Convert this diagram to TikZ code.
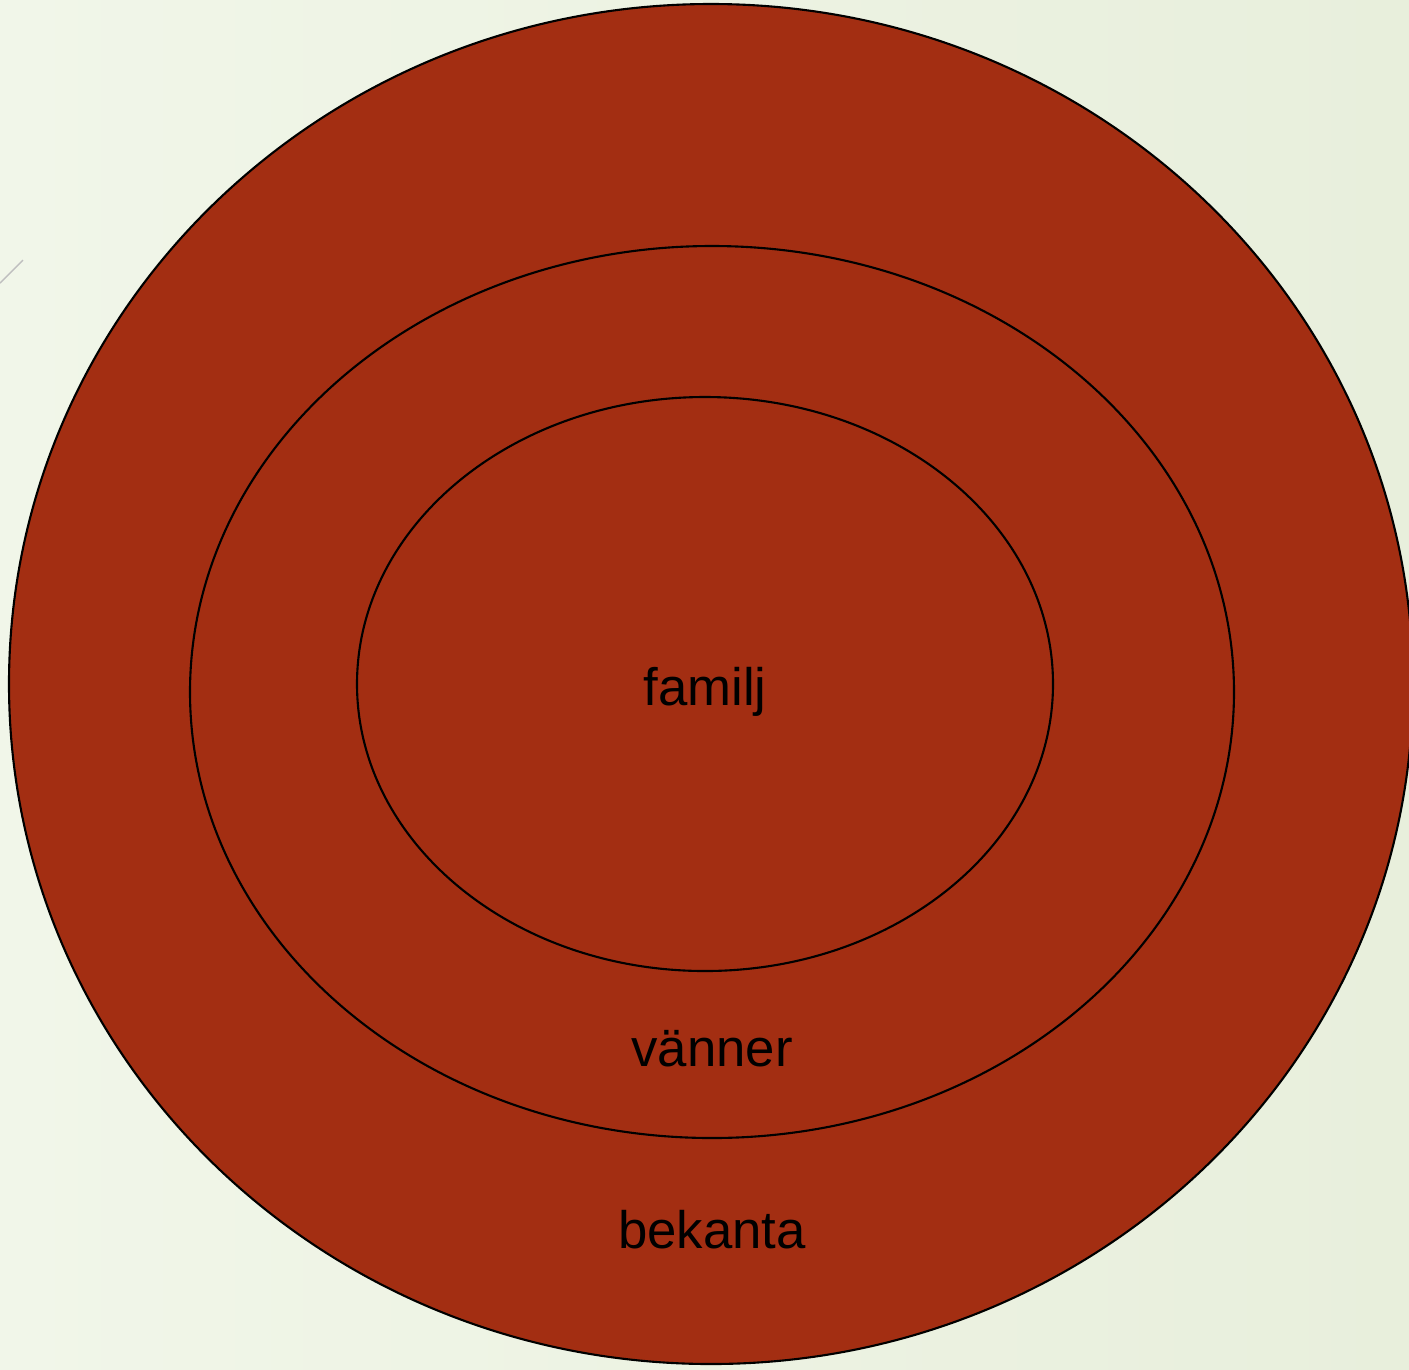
\documentclass[tikz,border=0pt]{standalone}
\usepackage{fontspec}
\setmainfont{Liberation Sans}
\definecolor{ringred}{RGB}{163,46,18}
\definecolor{paleleft}{RGB}{241,246,233}
\definecolor{paleright}{RGB}{232,239,220}
\tikzset{
  ring/.style={draw=black, line width=0.6pt, fill=ringred},
  ringlabel/.style={anchor=base, font=\fontsize{15}{18}\selectfont, text=black, inner sep=0pt}
}
\begin{document}
\begin{tikzpicture}[x=0.01cm, y=-0.01cm]
  % Background
  \useasboundingbox (0,0) rectangle (1409,1369);
  \shade[left color=paleleft, right color=paleright] (0,0) rectangle (1409,1369);
  \draw[black!25, line width=0.4pt] (0,283) -- (23,260);

  % Centres
  \coordinate (Co) at (711,684);
  \coordinate (Cm) at (712,692);
  \coordinate (Ci) at (705,684);

  % Rings, outermost first
  \draw[ring] (Co) ellipse [x radius=702, y radius=680];
  \draw[ring] (Cm) ellipse [x radius=522, y radius=446];
  \draw[ring] (Ci) ellipse [x radius=348, y radius=287];

  % Labels
  \node[ringlabel] (familj) at (705,705) {familj};
  \node[ringlabel] (vanner) at (712,1066) {vänner};
  \node[ringlabel] (bekanta) at (712,1248) {bekanta};
\end{tikzpicture}
\end{document}
